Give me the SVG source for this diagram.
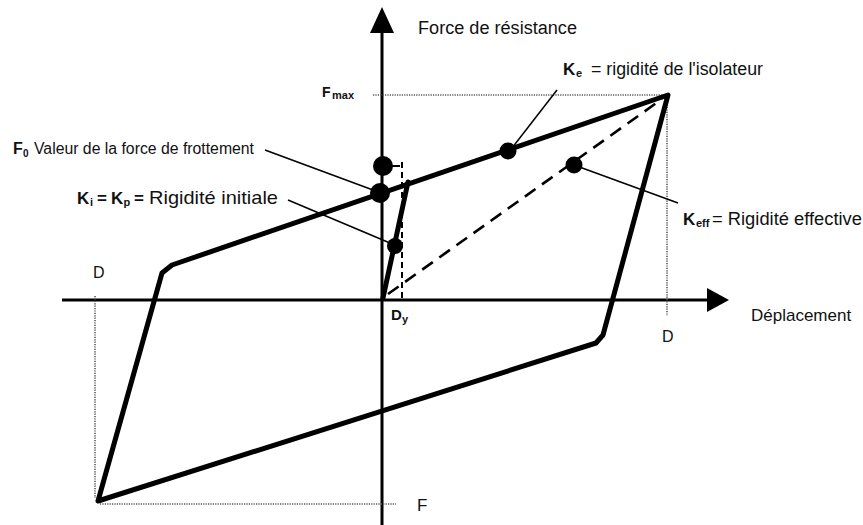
<svg xmlns="http://www.w3.org/2000/svg" width="863" height="525" viewBox="0 0 863 525">
<style>
text{font-family:"Liberation Sans",Arial,sans-serif;fill:#111}
.b{font-weight:bold}
.axis{stroke:#000;stroke-width:3;fill:none}
.loop{stroke:#000;stroke-width:5;fill:none;stroke-linejoin:round;stroke-linecap:round}
.dot{stroke:#555;stroke-width:1.6;stroke-dasharray:1.2 1.2;fill:none}
.dash{stroke:#000;stroke-width:2.6;stroke-dasharray:13 8;fill:none}
.vdash{stroke:#000;stroke-width:2;stroke-dasharray:6 4;fill:none}
.lead{stroke:#000;stroke-width:1.5;fill:none}
.pt{fill:#000}
</style>
<rect width="863" height="525" fill="#fff"/>
<g id="axes">
<line class="axis" x1="382" y1="30" x2="382" y2="525"/>
<polygon points="370,33 382,7 394,33" fill="#000"/>
<line class="axis" x1="62" y1="300" x2="710" y2="300" stroke-width="3.5"/>
<polygon points="707,288 729,300 707,312" fill="#000"/>
</g>
<g id="reference-lines">
<line class="dot" x1="373" y1="95" x2="668" y2="95"/>
<line class="dot" x1="667" y1="95" x2="667" y2="316"/>
<line class="dot" x1="95" y1="296" x2="95" y2="498"/>
<line class="dot" x1="100" y1="504" x2="396" y2="504"/>
</g>
<g id="curve">
<polyline class="loop" points="383,298 408,182"/>
<polyline class="loop" points="98,501 162,273 172,265 668,95 603,335 596,343 98,501"/>
<line class="dash" x1="388" y1="294" x2="662" y2="99"/>
<line class="vdash" x1="402" y1="162" x2="402" y2="300"/>
<line x1="392" y1="166" x2="400" y2="166" stroke="#000" stroke-width="2"/>
</g>
<g id="connectors">
<line class="lead" x1="265" y1="150" x2="373" y2="190"/>
<line class="lead" x1="288" y1="200" x2="390" y2="243"/>
<line class="lead" x1="557" y1="90" x2="512" y2="148"/>
<line class="lead" x1="574" y1="165" x2="678" y2="203"/>
</g>
<g id="F0">
<circle class="pt" cx="380" cy="193" r="10"/>
<text x="13" y="154" class="b" font-size="16">F<tspan x="23" y="157" font-size="10">0</tspan></text>
<text x="34" y="154" font-size="16" textLength="220" lengthAdjust="spacingAndGlyphs">Valeur de la force de frottement</text>
</g>
<g id="F0-top">
<circle class="pt" cx="383" cy="166" r="10"/>
</g>
<g id="Ki">
<circle class="pt" cx="395" cy="246" r="8"/>
<text x="77" y="204" class="b" font-size="17">K<tspan x="90" y="206" font-size="11">i</tspan><tspan x="97" y="204">=</tspan><tspan x="111" y="204">K</tspan><tspan x="123.5" y="206" font-size="11">p</tspan><tspan x="134" y="204">=</tspan></text>
<text x="149" y="204" font-size="19" textLength="129" lengthAdjust="spacingAndGlyphs">Rigidité initiale</text>
</g>
<g id="Ke">
<circle class="pt" cx="508" cy="151" r="8.5"/>
<text x="563" y="75" class="b" font-size="17">K<tspan x="576" y="77" font-size="11">e</tspan></text>
<text x="591" y="75" font-size="17.5" textLength="172" lengthAdjust="spacingAndGlyphs">= rigidité de l'isolateur</text>
</g>
<g id="Keff">
<circle class="pt" cx="574" cy="165" r="8.5"/>
<text x="683" y="225" class="b" font-size="17">K<tspan x="696" y="227" font-size="11">eff</tspan></text>
<text x="712" y="225" font-size="18" textLength="150" lengthAdjust="spacingAndGlyphs">= Rigidité effective</text>
</g>
<g id="labels">
<text x="418" y="34" font-size="18" textLength="159" lengthAdjust="spacingAndGlyphs">Force de résistance</text>
<text x="322" y="97" class="b" font-size="14">F<tspan x="332" y="99" font-size="11">max</tspan></text>
<text x="751" y="321" font-size="17">Déplacement</text>
<text x="93" y="278" font-size="16">D</text>
<text x="662" y="342" font-size="16">D</text>
<text x="391" y="320" class="b" font-size="15">D<tspan x="402" y="323" font-size="11">y</tspan></text>
<text x="417" y="511" font-size="17">F</text>
</g>
</svg>
